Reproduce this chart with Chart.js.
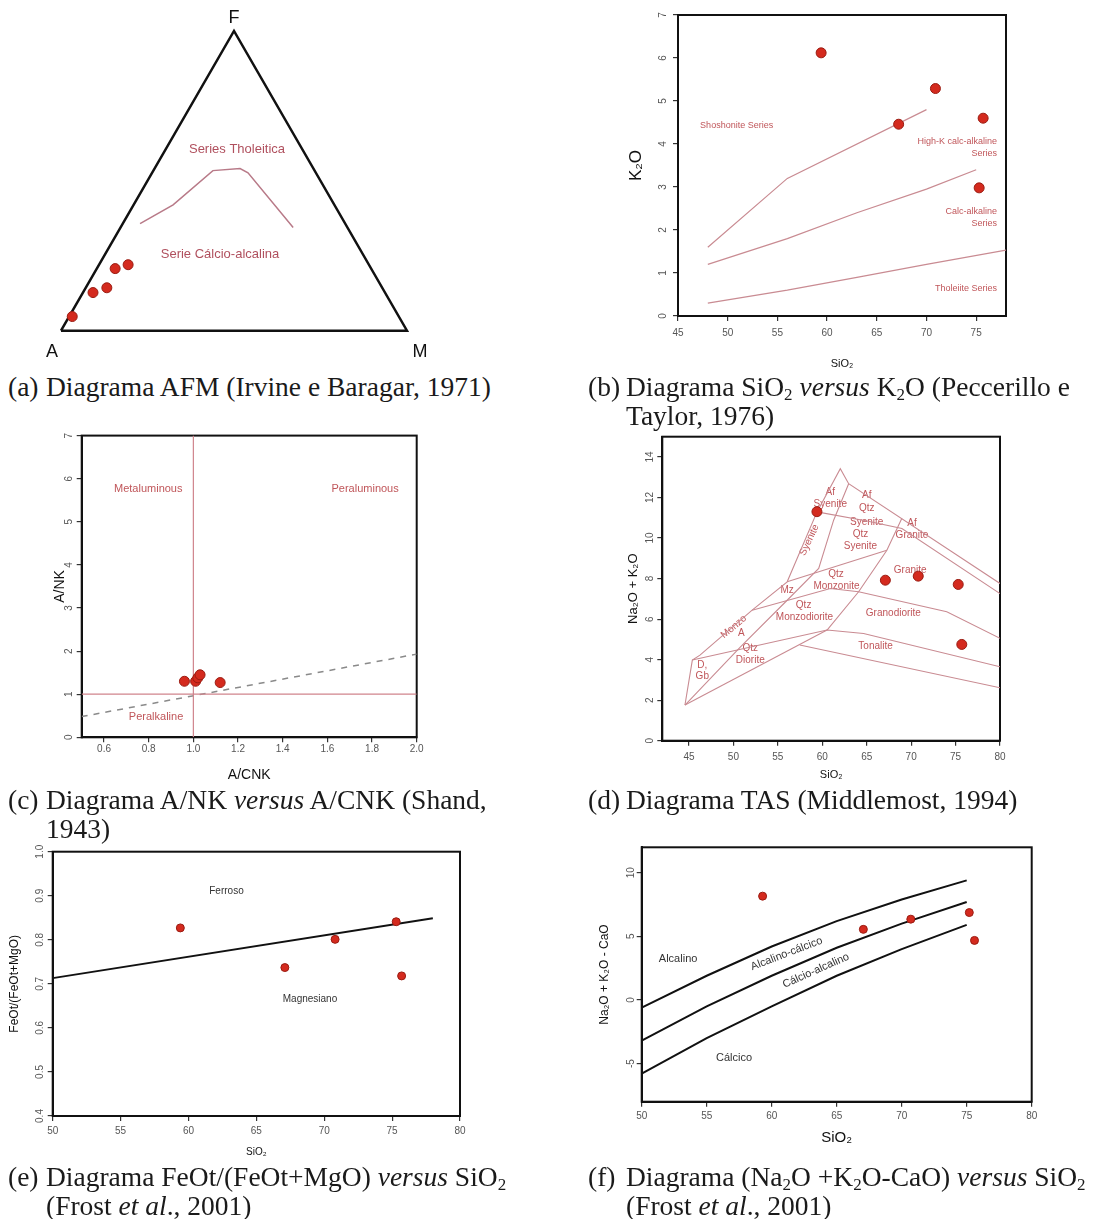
<!DOCTYPE html>
<html lang="pt">
<head>
<meta charset="utf-8">
<title>Diagramas geoquímicos</title>
<script src="https://cdn.jsdelivr.net/npm/chart.js@4.4.1/dist/chart.umd.min.js"></script>
<style>
  html, body { margin: 0; padding: 0; background: #fff; }
  body { position: relative; width: 1094px; height: 1219px; overflow: hidden; }
  canvas { position: absolute; }
  .cap { position: absolute; font-family: "Liberation Serif", "DejaVu Serif", serif; font-size: 27.5px; line-height: 29px; color: #1a1a1a; white-space: nowrap; }
  .cap .lb { position: absolute; left: 0; top: 0; }
  .cap .tx { margin-left: 38px; }
  .cap sub { font-size: 17px; line-height: 0; vertical-align: -4px; }
</style>
</head>
<body>
<canvas id="afm" width="460" height="360" style="left:0;top:0"></canvas>
<canvas id="k2o" width="420" height="372" style="left:600px;top:0"></canvas>
<canvas id="shand" width="400" height="360" style="left:40px;top:425px"></canvas>
<canvas id="tas" width="410" height="359" style="left:610px;top:426px"></canvas>
<canvas id="feo" width="480" height="325" style="left:0;top:840px"></canvas>
<canvas id="mali" width="460" height="318" style="left:590px;top:837px"></canvas>

<div class="cap" style="left:8px;top:372px"><span class="lb">(a)</span><div class="tx">Diagrama AFM (Irvine e Baragar, 1971)</div></div>
<div class="cap" style="left:588px;top:372px"><span class="lb">(b)</span><div class="tx">Diagrama SiO<sub>2</sub> <i>versus</i> K<sub>2</sub>O (Peccerillo e<br>Taylor, 1976)</div></div>
<div class="cap" style="left:8px;top:785px"><span class="lb">(c)</span><div class="tx">Diagrama A/NK <i>versus</i> A/CNK (Shand,<br>1943)</div></div>
<div class="cap" style="left:588px;top:785px"><span class="lb">(d)</span><div class="tx">Diagrama TAS (Middlemost, 1994)</div></div>
<div class="cap" style="left:8px;top:1162px"><span class="lb">(e)</span><div class="tx">Diagrama FeOt/(FeOt+MgO) <i>versus</i> SiO<sub>2</sub><br>(Frost <i>et al</i>., 2001)</div></div>
<div class="cap" style="left:588px;top:1162px"><span class="lb">(f)</span><div class="tx">Diagrama (Na<sub>2</sub>O +K<sub>2</sub>O-CaO) <i>versus</i> SiO<sub>2</sub><br>(Frost <i>et al</i>., 2001)</div></div>

<script>
// (a) AFM - proporções ternárias F e M (A = 1 - F - M)
const afmF = [0.047, 0.127, 0.143, 0.207, 0.220];
const afmM = [0.009, 0.029, 0.061, 0.053, 0.084];
const afmCurveF = [0.357, 0.420, 0.534, 0.541, 0.527, 0.344];
const afmCurveM = [0.050, 0.114, 0.172, 0.247, 0.277, 0.499];
const triF = [0, 1, 0, 0];
const triM = [0, 0, 1, 0];

// (b) SiO2 x K2O
const bSiO2 = [59.4, 67.2, 70.9, 75.3, 75.7];
const bK2O = [6.12, 4.46, 5.29, 2.98, 4.60];
const bShoshonite = [[48, 1.6], [56, 3.2], [70, 4.8]];
const bHighK = [[48, 1.2], [56, 1.8], [63, 2.4], [70, 2.95], [75, 3.4]];
const bTholeiite = [[48, 0.3], [56, 0.6], [63, 0.9], [70, 1.2], [78, 1.53]];
const bXTicks = [45, 50, 55, 60, 65, 70, 75];
const bYTicks = [0, 1, 2, 3, 4, 5, 6, 7];

// (c) A/NK x A/CNK
const cACNK = [0.96, 1.01, 1.02, 1.03, 1.12];
const cANK = [1.30, 1.30, 1.38, 1.45, 1.27];
const cVertical = [[1.0, 0], [1.0, 7]];
const cHorizontal = [[0.5, 1], [2.0, 1]];
const cDashed = [[0.5, 0.48], [2.0, 1.93]];
const cXTicks = [0.6, 0.8, 1.0, 1.2, 1.4, 1.6, 1.8, 2.0];
const cYTicks = [0, 1, 2, 3, 4, 5, 6, 7];

// (d) TAS
const dSiO2 = [59.4, 67.1, 70.8, 75.3, 75.7];
const dAlk = [11.3, 7.92, 8.12, 7.71, 4.75];
const tasOuter = [[44.55, 1.76], [45.38, 3.98], [46.24, 4.22], [52.11, 6.44], [56.05, 7.84], [59.41, 11.29], [62.03, 13.42], [62.97, 12.68], [80, 7.76]];
const tasV2 = [[44.55, 1.76], [50.8, 4.63], [56.05, 6.93], [59.6, 8.5], [61.28, 10.88], [62.97, 12.68]];
const tasBase = [[44.55, 1.76], [60.54, 5.46]];
const tasV3 = [[68.96, 10.98], [67.27, 9.40], [64.09, 7.35], [60.54, 5.46]];
const tasAf = [[59.41, 11.29], [65.03, 10.84], [68.96, 10.47], [80, 7.26]];
const tasSyen = [[56.05, 7.84], [67.27, 9.40]];
const tasMonz = [[52.11, 6.44], [60.91, 7.51], [64.09, 7.35], [74.01, 6.36], [80, 5.05]];
const tasDior = [[45.38, 3.98], [60.54, 5.46], [64.65, 5.29], [80, 3.65]];
const tasTonal = [[57.47, 4.72], [80, 2.61]];
const dXTicks = [45, 50, 55, 60, 65, 70, 75, 80];
const dYTicks = [0, 2, 4, 6, 8, 10, 12, 14];

// (e) FeOt/(FeOt+MgO) x SiO2
const eSiO2 = [59.4, 67.1, 70.8, 75.3, 75.7];
const eFe = [0.827, 0.737, 0.801, 0.841, 0.718];
const eBoundary = [[50, 0.713], [78, 0.849]];
const eXTicks = [50, 55, 60, 65, 70, 75, 80];
const eYTicks = [0.4, 0.5, 0.6, 0.7, 0.8, 0.9, 1.0];

// (f) Na2O+K2O-CaO x SiO2
const fSiO2 = [59.3, 67.05, 70.7, 75.2, 75.6];
const fMali = [8.16, 5.55, 6.35, 6.87, 4.68];
const fAlkalic = [[50, -0.6], [55, 1.9], [60, 4.2], [65, 6.2], [70, 7.9], [75, 9.4]];
const fAlkCalcic = [[50, -3.2], [55, -0.5], [60, 1.9], [65, 4.1], [70, 6.0], [75, 7.7]];
const fCalcAlk = [[50, -5.8], [55, -3.0], [60, -0.5], [65, 1.9], [70, 4.0], [75, 5.9]];
const fXTicks = [50, 55, 60, 65, 70, 75, 80];
const fYTicks = [-5, 0, 5, 10];

const RED = "#d42a1e";
const RED_EDGE = "#9a1c12";
const PINK = "#c98b92";
const LABEL = "#c0565a";
const SANS = '"Liberation Sans", Arial, sans-serif';

Chart.defaults.font.family = SANS;

// textos dentro dos diagramas
const notes = {
  id: "notes",
  beforeDatasetsDraw(chart, args, opts) {
    const { ctx, scales: { x, y } } = chart;
    (opts.items || []).forEach((n) => {
      ctx.save();
      ctx.translate(x.getPixelForValue(n.x), y.getPixelForValue(n.y));
      ctx.rotate(((n.rot || 0) * Math.PI) / 180);
      ctx.font = n.font || "10px " + SANS;
      ctx.fillStyle = n.color || LABEL;
      ctx.textAlign = n.align || "center";
      ctx.textBaseline = "middle";
      ctx.fillText(n.text, 0, 0);
      ctx.restore();
    });
  },
};

// moldura em volta da área do gráfico
const frame = {
  id: "frame",
  beforeDatasetsDraw(chart, args, opts) {
    if (!opts.show) return;
    const { ctx, chartArea: a } = chart;
    ctx.save();
    ctx.strokeStyle = "#111";
    ctx.lineWidth = 2;
    ctx.strokeRect(a.left, a.top, a.right - a.left, a.bottom - a.top);
    ctx.restore();
  },
};

function pairs(list) {
  return list.map((p) => ({ x: p[0], y: p[1] }));
}

function line(list, color, width, dash) {
  return {
    data: pairs(list),
    showLine: true,
    borderColor: color,
    borderWidth: width,
    borderDash: dash || [],
    pointRadius: 0,
    fill: false,
    order: 2,
  };
}

function samples(xs, ys, r) {
  return {
    data: xs.map((x, i) => ({ x: x, y: ys[i] })),
    showLine: false,
    pointRadius: r,
    backgroundColor: RED,
    borderColor: RED_EDGE,
    borderWidth: 1,
    order: 1,
  };
}

function axis(min, max, ticks, o) {
  return {
    type: "linear",
    min: min,
    max: max,
    afterBuildTicks: (s) => {
      s.ticks = ticks.map((v) => ({ value: v }));
    },
    afterFit: (s) => {
      if (s.isHorizontal()) s.height = o.size;
      else s.width = o.size;
    },
    border: { display: true, color: "#111", width: 2 },
    grid: { drawOnChartArea: false, drawTicks: true, tickLength: 5, color: "#333", lineWidth: 1.2 },
    ticks: {
      color: "#555",
      font: { size: 10 },
      padding: o.tickPad || 0,
      minRotation: o.rot || 0,
      maxRotation: o.rot || 0,
      crossAlign: o.rot ? "center" : "near",
      callback: o.fmt || ((v) => String(v)),
    },
    title: {
      display: true,
      text: o.title,
      color: "#111",
      font: { size: o.titleSize },
      padding: o.titlePad,
    },
  };
}

function base(pad, scales, items, showFrame) {
  return {
    responsive: false,
    animation: false,
    devicePixelRatio: 1,
    events: [],
    layout: { padding: pad, autoPadding: false },
    scales: scales,
    plugins: {
      legend: { display: false },
      tooltip: { enabled: false },
      notes: { items: items },
      frame: { show: showFrame },
    },
  };
}

// (a) AFM
const S3 = Math.sqrt(3) / 2;
function tern(F, M) {
  return F.map((f, i) => ({ x: M[i] + f / 2, y: f * S3 }));
}

new Chart(document.getElementById("afm"), {
  type: "scatter",
  data: {
    datasets: [
      { data: tern(afmF, afmM), pointRadius: 5, backgroundColor: RED, borderColor: RED_EDGE, borderWidth: 1, order: 1 },
      { data: tern(triF, triM), showLine: true, borderColor: "#111", borderWidth: 2.5, pointRadius: 0, order: 2 },
      { data: tern(afmCurveF, afmCurveM), showLine: true, borderColor: "#b87a88", borderWidth: 1.5, pointRadius: 0, order: 2 },
    ],
  },
  options: base(0, {
    x: { type: "linear", display: false, min: -0.1763, max: 1.1532 },
    y: { type: "linear", display: false, min: -0.0849, max: 0.9556 },
  }, [
    { x: 0.5, y: 0.9036, text: "F", font: "18px " + SANS, color: "#111" },
    { x: -0.026, y: -0.0617, text: "A", font: "18px " + SANS, color: "#111" },
    { x: 1.0376, y: -0.0617, text: "M", font: "18px " + SANS, color: "#111" },
    { x: 0.5087, y: 0.523, text: "Series Tholeitica", font: "13px " + SANS, color: "#b0505e" },
    { x: 0.4595, y: 0.2197, text: "Serie Cálcio-alcalina", font: "13px " + SANS, color: "#b0505e" },
  ], false),
  plugins: [notes, frame],
});

// (b) K2O x SiO2
new Chart(document.getElementById("k2o"), {
  type: "scatter",
  data: {
    datasets: [
      samples(bSiO2, bK2O, 5),
      line(bShoshonite, PINK, 1.2),
      line(bHighK, PINK, 1.2),
      line(bTholeiite, PINK, 1.2),
    ],
  },
  options: base({ top: 15, right: 14, left: 0, bottom: 0 }, {
    x: axis(45, 78, bXTicks, { size: 56, tickPad: 6, title: "SiO₂", titleSize: 11, titlePad: { top: 0, bottom: 1.4 } }),
    y: axis(0, 7, bYTicks, { size: 78, rot: 90, tickPad: 7, title: "K₂O", titleSize: 17, titlePad: { top: 26.5, bottom: 0 } }),
  }, [
    { x: 50.9, y: 4.43, text: "Shoshonite Series", font: "9px " + SANS },
    { x: 77.1, y: 4.05, text: "High-K calc-alkaline", font: "9px " + SANS, align: "right" },
    { x: 77.1, y: 3.78, text: "Series", font: "9px " + SANS, align: "right" },
    { x: 77.1, y: 2.44, text: "Calc-alkaline", font: "9px " + SANS, align: "right" },
    { x: 77.1, y: 2.16, text: "Series", font: "9px " + SANS, align: "right" },
    { x: 77.1, y: 0.64, text: "Tholeiite Series", font: "9px " + SANS, align: "right" },
  ], true),
  plugins: [notes, frame],
});

// (c) A/NK x A/CNK
new Chart(document.getElementById("shand"), {
  type: "scatter",
  data: {
    datasets: [
      samples(cACNK, cANK, 5),
      line(cVertical, "#d0848c", 1.2),
      line(cHorizontal, "#d0848c", 1.2),
      line(cDashed, "#8a8a8a", 1.5, [6, 6]),
    ],
  },
  options: base({ top: 10, right: 23.3, left: 0, bottom: 0 }, {
    x: axis(0.5, 2.0, cXTicks, { size: 47.7, tickPad: 1, fmt: (v) => v.toFixed(1), title: "A/CNK", titleSize: 14, titlePad: { top: 0, bottom: 1.6 } }),
    y: axis(0, 7, cYTicks, { size: 41.7, rot: 90, tickPad: 4.6, title: "A/NK", titleSize: 14, titlePad: { top: 11.6, bottom: 0 } }),
  }, [
    { x: 0.798, y: 5.76, text: "Metaluminous", font: "11px " + SANS },
    { x: 1.769, y: 5.76, text: "Peraluminous", font: "11px " + SANS },
    { x: 0.833, y: 0.48, text: "Peralkaline", font: "11px " + SANS },
  ], true),
  plugins: [notes, frame],
});

// (d) TAS
new Chart(document.getElementById("tas"), {
  type: "scatter",
  data: {
    datasets: [
      samples(dSiO2, dAlk, 5),
      line(tasOuter, PINK, 1.1),
      line(tasV2, PINK, 1.1),
      line(tasBase, PINK, 1.1),
      line(tasV3, PINK, 1.1),
      line(tasAf, PINK, 1.1),
      line(tasSyen, PINK, 1.1),
      line(tasMonz, PINK, 1.1),
      line(tasDior, PINK, 1.1),
      line(tasTonal, PINK, 1.1),
    ],
  },
  options: base({ top: 10.7, right: 20, left: 0, bottom: 0 }, {
    x: axis(42, 80, dXTicks, { size: 44.3, tickPad: 6, title: "SiO₂", titleSize: 11, titlePad: { top: 0, bottom: 3.4 } }),
    y: axis(0, 15, dYTicks, { size: 52.3, rot: 90, tickPad: 1.8, title: "Na₂O + K₂O", titleSize: 13, titlePad: { top: 15.5, bottom: 0 } }),
  }, [
    { x: 60.9, y: 12.27, text: "Af" },
    { x: 60.9, y: 11.65, text: "Syenite" },
    { x: 65.0, y: 12.1, text: "Af" },
    { x: 65.0, y: 11.45, text: "Qtz" },
    { x: 65.0, y: 10.8, text: "Syenite" },
    { x: 64.3, y: 10.2, text: "Qtz" },
    { x: 64.3, y: 9.6, text: "Syenite" },
    { x: 70.1, y: 10.75, text: "Af" },
    { x: 70.1, y: 10.15, text: "Granite" },
    { x: 58.55, y: 9.9, text: "Syenite", rot: -65 },
    { x: 61.55, y: 8.2, text: "Qtz" },
    { x: 61.6, y: 7.6, text: "Monzonite" },
    { x: 69.9, y: 8.4, text: "Granite" },
    { x: 56.05, y: 7.43, text: "Mz" },
    { x: 57.9, y: 6.7, text: "Qtz" },
    { x: 58.0, y: 6.1, text: "Monzodiorite" },
    { x: 68.0, y: 6.28, text: "Granodiorite" },
    { x: 66.0, y: 4.67, text: "Tonalite" },
    { x: 50.05, y: 5.62, text: "Monzo", rot: -40 },
    { x: 50.9, y: 5.3, text: "A" },
    { x: 51.9, y: 4.55, text: "Qtz" },
    { x: 51.9, y: 3.99, text: "Diorite" },
    { x: 46.5, y: 3.73, text: "D," },
    { x: 46.5, y: 3.16, text: "Gb" },
  ], true),
  plugins: [notes, frame],
});

// (e) FeOt/(FeOt+MgO)
new Chart(document.getElementById("feo"), {
  type: "scatter",
  data: {
    datasets: [
      samples(eSiO2, eFe, 4),
      line(eBoundary, "#111", 2),
    ],
  },
  options: base({ top: 11.7, right: 20, left: 0, bottom: 0 }, {
    x: axis(50, 80, eXTicks, { size: 49, tickPad: 4.7, title: "SiO₂", titleSize: 10, titlePad: { top: 0, bottom: 7 } }),
    y: axis(0.4, 1.0, eYTicks, { size: 52.7, rot: 90, tickPad: 0, fmt: (v) => v.toFixed(1), title: "FeOt/(FeOt+MgO)", titleSize: 12, titlePad: { top: 7.8, bottom: 0 } }),
  }, [
    { x: 62.8, y: 0.911, text: "Ferroso", font: "10px " + SANS, color: "#333" },
    { x: 68.95, y: 0.666, text: "Magnesiano", font: "10px " + SANS, color: "#333" },
  ], true),
  plugins: [notes, frame],
});

// (f) MALI
new Chart(document.getElementById("mali"), {
  type: "scatter",
  data: {
    datasets: [
      samples(fSiO2, fMali, 4),
      line(fAlkalic, "#111", 2),
      line(fAlkCalcic, "#111", 2),
      line(fCalcAlk, "#111", 2),
    ],
  },
  options: base({ top: 10.3, right: 18.3, left: 0, bottom: 0 }, {
    x: axis(50, 80, fXTicks, { size: 53.3, tickPad: 4, title: "SiO₂", titleSize: 15, titlePad: { top: 0, bottom: 8 } }),
    y: axis(-8, 12, fYTicks, { size: 51.7, rot: 90, tickPad: 0, title: "Na₂O + K₂O - CaO", titleSize: 12, titlePad: { top: 7.8, bottom: 0 } }),
  }, [
    { x: 52.8, y: 3.24, text: "Alcalino", font: "11px " + SANS, color: "#333" },
    { x: 61.15, y: 3.63, text: "Alcalino-cálcico", font: "11px " + SANS, color: "#333", rot: -21 },
    { x: 63.4, y: 2.3, text: "Cálcio-alcalino", font: "11px " + SANS, color: "#333", rot: -24 },
    { x: 57.1, y: -4.6, text: "Cálcico", font: "11px " + SANS, color: "#333" },
  ], true),
  plugins: [notes, frame],
});
</script>
</body>
</html>
